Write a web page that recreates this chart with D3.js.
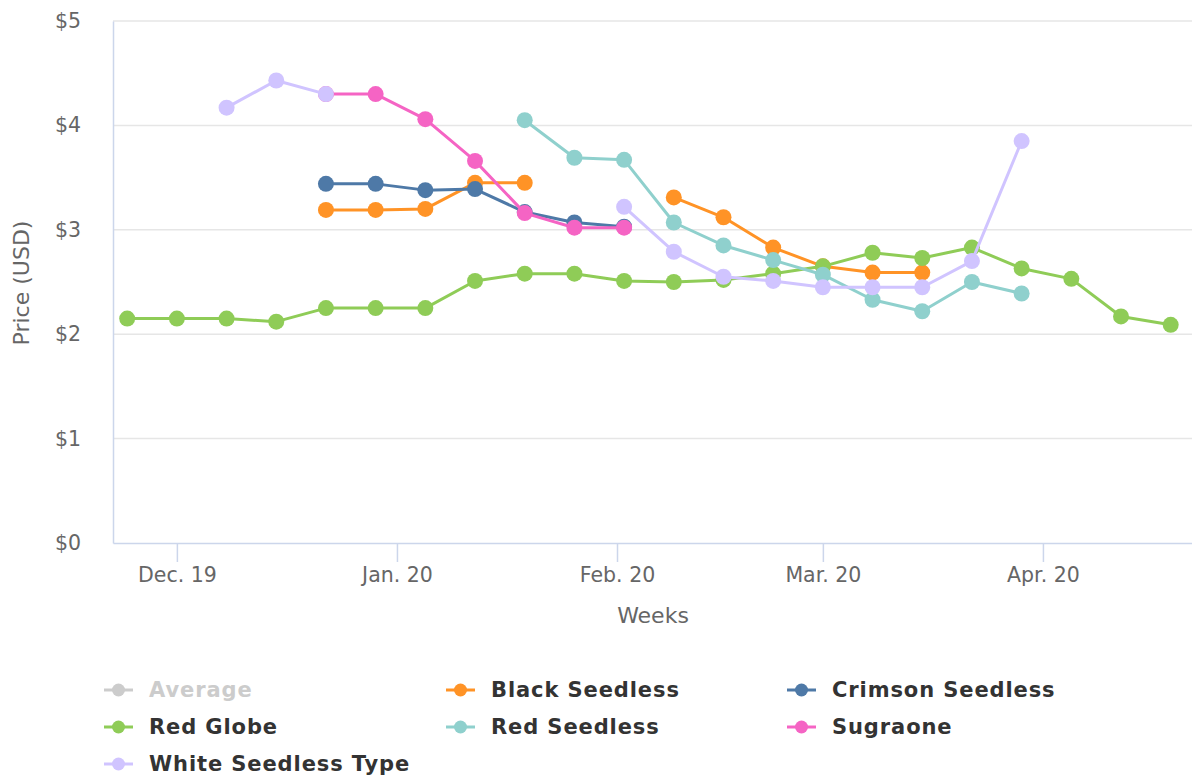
<!DOCTYPE html>
<html>
<head>
<meta charset="utf-8">
<script src="https://cdn.jsdelivr.net/npm/d3@7"></script>
<style>
  body { margin: 0; background: #fff; }
  svg { display: block; }
  svg text { font-family: "DejaVu Sans", "Open Sans", sans-serif; }
</style>
</head>
<body>
<svg id="chart" width="1192" height="778"></svg>
<script>
// weekly dates (week starting)
const weeks = [
  '2019-11-24', '2019-12-01', '2019-12-08', '2019-12-15', '2019-12-22', '2019-12-29',
  '2020-01-05', '2020-01-12', '2020-01-19', '2020-01-26', '2020-02-02', '2020-02-09',
  '2020-02-16', '2020-02-23', '2020-03-01', '2020-03-08', '2020-03-15', '2020-03-22',
  '2020-03-29', '2020-04-05', '2020-04-12', '2020-04-19'
];

// prices per series, null = no report that week
const blackSeedless = [null, null, null, null, 3.19, 3.19, 3.20, 3.45, 3.45, null, null, 3.31,
  3.12, 2.83, 2.65, 2.59, 2.59, null, null, null, null, null];
const crimsonSeedless = [null, null, null, null, 3.44, 3.44, 3.38, 3.39, 3.17, 3.07, 3.03, null,
  null, null, null, null, null, null, null, null, null, null];
const redGlobe = [2.15, 2.15, 2.15, 2.12, 2.25, 2.25, 2.25, 2.51, 2.58, 2.58, 2.51, 2.50,
  2.52, 2.58, 2.65, 2.78, 2.73, 2.83, 2.63, 2.53, 2.17, 2.09];
const redSeedless = [null, null, null, null, null, null, null, null, 4.05, 3.69, 3.67, 3.07,
  2.85, 2.71, 2.57, 2.33, 2.22, 2.50, 2.39, null, null, null];
const sugraone = [null, null, null, null, 4.30, 4.30, 4.06, 3.66, 3.16, 3.02, 3.02, null,
  null, null, null, null, null, null, null, null, null, null];
const whiteSeedless = [null, null, 4.17, 4.43, 4.30, null, null, null, null, null, 3.22, 2.79,
  2.55, 2.51, 2.45, 2.45, 2.45, 2.70, 3.85, null, null, null];

const yTicks = [0, 1, 2, 3, 4, 5];
const xTickDates = ['2019-12-01', '2020-01-01', '2020-02-01', '2020-03-01', '2020-04-01'];
const xTickLabels = ['Dec. 19', 'Jan. 20', 'Feb. 20', 'Mar. 20', 'Apr. 20'];

const series = [
  { name: 'Average', values: null, color: '#cccccc', hidden: true },
  { name: 'Black Seedless', values: blackSeedless, color: '#ff9326' },
  { name: 'Crimson Seedless', values: crimsonSeedless, color: '#4e79a7' },
  { name: 'Red Globe', values: redGlobe, color: '#8fcc57' },
  { name: 'Red Seedless', values: redSeedless, color: '#8fd0cd' },
  { name: 'Sugraone', values: sugraone, color: '#f564c4' },
  { name: 'White Seedless Type', values: whiteSeedless, color: '#d0c4ff' }
];

const parse = d3.timeParse('%Y-%m-%d');
const svg = d3.select('#chart');

const plotLeft = 113, plotRight = 1192, plotTop = 21, plotBottom = 543;

const x = d3.scaleTime()
  .domain([new Date(2019, 10, 22), new Date(2020, 3, 22)])
  .range([plotLeft, plotRight]);
const y = d3.scaleLinear().domain([0, 5]).range([plotBottom, plotTop]);

// gridlines
svg.append('g')
  .selectAll('line')
  .data(yTicks.filter(d => d > 0))
  .enter()
  .append('line')
  .attr('x1', plotLeft).attr('x2', plotRight)
  .attr('y1', d => y(d)).attr('y2', d => y(d))
  .attr('stroke', '#e6e6e6')
  .attr('stroke-width', 1.5);

// y axis
const yAxis = svg.append('g')
  .attr('transform', `translate(${plotLeft},0)`)
  .call(d3.axisLeft(y).tickValues(yTicks).tickFormat(d => '$' + d).tickSize(0).tickPadding(32));
yAxis.attr('font-family', null).attr('font-size', null);
yAxis.select('.domain').attr('stroke', '#ccd6eb').attr('stroke-width', 1.5);
yAxis.selectAll('text').attr('fill', '#666').attr('font-size', 20.5);

// x axis
const xAxis = svg.append('g')
  .attr('transform', `translate(0,${plotBottom})`)
  .call(d3.axisBottom(x)
    .tickValues(xTickDates.map(parse))
    .tickFormat((d, i) => xTickLabels[i])
    .tickSize(19)
    .tickSizeOuter(0)
    .tickPadding(5));
xAxis.attr('font-family', null).attr('font-size', null);
xAxis.select('.domain').attr('stroke', '#ccd6eb').attr('stroke-width', 1.5);
xAxis.selectAll('.tick line').attr('stroke', '#ccd6eb').attr('stroke-width', 1.5);
xAxis.selectAll('text').attr('fill', '#666').attr('font-size', 20.5);

// axis titles
svg.append('text')
  .attr('transform', 'translate(29,283) rotate(-90)')
  .attr('text-anchor', 'middle')
  .attr('fill', '#666')
  .attr('font-size', 22)
  .text('Price (USD)');

svg.append('text')
  .attr('x', 653).attr('y', 623)
  .attr('text-anchor', 'middle')
  .attr('fill', '#666')
  .attr('font-size', 22)
  .text('Weeks');

// lines and markers
const line = d3.line()
  .defined(d => d.v !== null)
  .x(d => x(d.date))
  .y(d => y(d.v));

series.filter(s => !s.hidden).forEach(s => {
  const pts = s.values.map((v, i) => ({ date: parse(weeks[i]), v: v }));
  const g = svg.append('g');
  g.append('path')
    .datum(pts)
    .attr('d', line)
    .attr('fill', 'none')
    .attr('stroke', s.color)
    .attr('stroke-width', 3)
    .attr('stroke-linejoin', 'round');
  g.selectAll('circle')
    .data(pts.filter(d => d.v !== null))
    .enter()
    .append('circle')
    .attr('cx', d => x(d.date))
    .attr('cy', d => y(d.v))
    .attr('r', 8)
    .attr('fill', s.color);
});

// legend
const colX = [104, 446, 787];
const rowY = [690, 727, 764];
const legend = svg.append('g');
series.forEach((s, i) => {
  const lx = colX[i % 3], ly = rowY[Math.floor(i / 3)];
  const item = legend.append('g').attr('transform', `translate(${lx},${ly})`);
  item.append('line')
    .attr('x1', 0).attr('x2', 29)
    .attr('stroke', s.color)
    .attr('stroke-width', 3);
  item.append('circle')
    .attr('cx', 14.5).attr('r', 6.5)
    .attr('fill', s.color);
  item.append('text')
    .attr('x', 45).attr('dy', '0.35em')
    .attr('font-size', 21)
    .attr('font-weight', 'bold')
    .attr('letter-spacing', 0.9)
    .attr('fill', s.hidden ? '#cccccc' : '#333333')
    .text(s.name);
});
</script>
</body>
</html>
